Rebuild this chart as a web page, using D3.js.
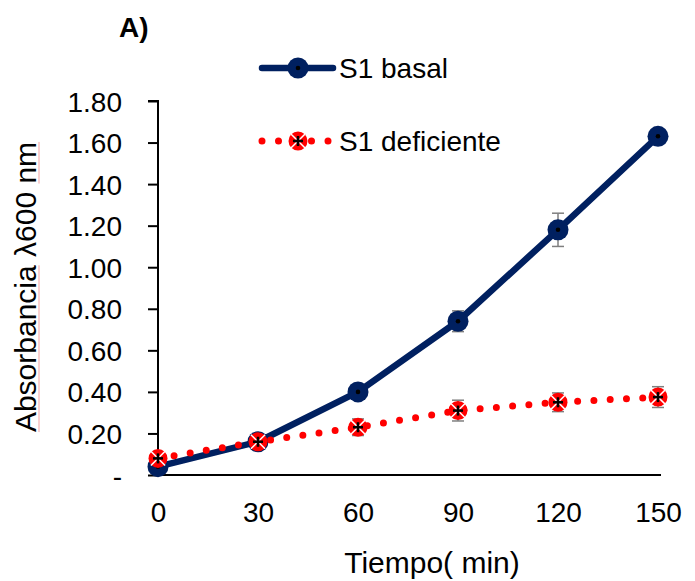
<!DOCTYPE html>
<html>
<head>
<meta charset="utf-8">
<script src="https://cdn.jsdelivr.net/npm/d3@7"></script>
<style>
  body { margin: 0; background: #fff; }
  text { font-family: "Liberation Sans", Arial, sans-serif; fill: #000; }
</style>
</head>
<body>
<div id="viz"></div>
<script>
// time points (min)
const tiempo = [0, 30, 60, 90, 120, 150];
// absorbance series
const basal = [0.04, 0.16, 0.40, 0.74, 1.18, 1.63];
const basalErr = [0.01, 0.02, 0.02, 0.05, 0.08, 0.02];
const deficiente = [0.08, 0.16, 0.23, 0.31, 0.35, 0.375];
const deficienteErr = [0.03, 0.02, 0.04, 0.05, 0.045, 0.05];
const yTicks = [0, 0.2, 0.4, 0.6, 0.8, 1.0, 1.2, 1.4, 1.6, 1.8];
const seriesNames = ['S1 basal', 'S1 deficiente'];

const width = 695, height = 581;
const margins = { top: 101, right: 29, bottom: 106, left: 158 };

const svg = d3.select('#viz').append('svg')
    .attr('width', width)
    .attr('height', height);

const xScale = d3.scaleLinear()
    .domain([0, 150])
    .range([margins.left, width - margins.right - 8]);

const yScale = d3.scaleLinear()
    .domain([0, 1.8])
    .range([height - margins.bottom, margins.top]);

// y axis
const yAxis = d3.axisLeft(yScale)
    .tickValues(yTicks)
    .tickSize(10)
    .tickPadding(26)
    .tickFormat(d => d === 0 ? '-' : d3.format('.2f')(d));

const gy = svg.append('g')
    .attr('transform', `translate(${margins.left},0)`)
    .call(yAxis);
gy.select('.domain').attr('stroke', '#000').attr('stroke-width', 2).attr('d', `M-10,${yScale(1.8)}H0V${yScale(0)}`);
gy.selectAll('.tick line').attr('stroke', '#000').attr('stroke-width', 2);
gy.selectAll('.tick text').style('font-size', '28px').attr('dy', '0.36em');

// x axis
const xAxis = d3.axisBottom(xScale)
    .tickValues(tiempo)
    .tickSize(0)
    .tickPadding(27);

const gx = svg.append('g')
    .attr('transform', `translate(0,${yScale(0)})`)
    .call(xAxis);
gx.select('.domain').attr('stroke', '#000').attr('stroke-width', 2)
    .attr('d', `M${xScale(0)},0H${xScale(150) + 3}`);
gx.selectAll('.tick text').style('font-size', '28px');

// axis titles
svg.append('text')
    .attr('x', 432)
    .attr('y', 573)
    .attr('text-anchor', 'middle')
    .style('font-size', '30px')
    .text('Tiempo( min)');

const yTitle = svg.append('text')
    .attr('transform', 'translate(36,287) rotate(-90)')
    .attr('text-anchor', 'middle')
    .style('font-size', '30px')
    .text('Absorbancia λ600 nm');

// faint spell-check underline under "Absorbancia" and "nm"
const node = yTitle.node();
const total = node.getComputedTextLength();
const absLen = node.getSubStringLength(0, 11);
const nmStart = node.getSubStringLength(0, 17);
const yStart = 287 + total / 2;
const marks = svg.append('g').attr('stroke', '#f3a3a3').attr('stroke-width', 1);
marks.append('line').attr('x1', 39).attr('x2', 39).attr('y1', yStart).attr('y2', yStart - absLen);
marks.append('line').attr('x1', 39).attr('x2', 39).attr('y1', yStart - nmStart).attr('y2', yStart - total);

svg.append('text')
    .attr('x', 119)
    .attr('y', 37)
    .style('font-size', '28px')
    .style('font-weight', 'bold')
    .text('A)');

const line = d3.line()
    .x((d, i) => xScale(tiempo[i]))
    .y(d => yScale(d));

// error bars
function errorBars(values, errs) {
    const g = svg.append('g').attr('stroke', '#7f7f7f').attr('stroke-width', 1.5);
    values.forEach((v, i) => {
        const x = xScale(tiempo[i]);
        const y0 = yScale(v - errs[i]), y1 = yScale(v + errs[i]);
        g.append('line').attr('x1', x).attr('x2', x).attr('y1', y0).attr('y2', y1);
        g.append('line').attr('x1', x - 6).attr('x2', x + 6).attr('y1', y0).attr('y2', y0);
        g.append('line').attr('x1', x - 6).attr('x2', x + 6).attr('y1', y1).attr('y2', y1);
    });
}

errorBars(basal, basalErr);
errorBars(deficiente, deficienteErr);

// basal line
svg.append('path')
    .datum(basal)
    .attr('d', line)
    .attr('fill', 'none')
    .attr('stroke', '#002060')
    .attr('stroke-width', 6.5)
    .attr('stroke-linejoin', 'round');

function basalMarker(g, x, y) {
    g.append('circle').attr('cx', x).attr('cy', y).attr('r', 10.5).attr('fill', '#002060');
    g.append('circle').attr('cx', x).attr('cy', y).attr('r', 2.3).attr('fill', '#000');
}

const gb = svg.append('g');
basal.forEach((v, i) => basalMarker(gb, xScale(tiempo[i]), yScale(v)));

// deficiente dotted line
svg.append('path')
    .datum(deficiente)
    .attr('d', line)
    .attr('fill', 'none')
    .attr('stroke', '#ff0000')
    .attr('stroke-width', 7)
    .attr('stroke-linecap', 'round')
    .attr('stroke-dasharray', '0 16.3');

function defMarker(g, x, y) {
    g.append('circle').attr('cx', x).attr('cy', y).attr('r', 9.5).attr('fill', '#ff0000');
    // white gaps
    [45, 135].forEach(a => {
        const r = a * Math.PI / 180;
        g.append('line')
            .attr('x1', x - 10 * Math.cos(r)).attr('y1', y - 10 * Math.sin(r))
            .attr('x2', x + 10 * Math.cos(r)).attr('y2', y + 10 * Math.sin(r))
            .attr('stroke', '#fff').attr('stroke-width', 1.5);
    });
    g.append('line').attr('x1', x - 5).attr('x2', x + 5).attr('y1', y).attr('y2', y)
        .attr('stroke', '#000').attr('stroke-width', 2.5);
    g.append('line').attr('x1', x).attr('x2', x).attr('y1', y - 5).attr('y2', y + 5)
        .attr('stroke', '#000').attr('stroke-width', 2.5);
}

const gd = svg.append('g');
deficiente.forEach((v, i) => defMarker(gd, xScale(tiempo[i]), yScale(v)));

// legend
const legend = svg.append('g');
legend.append('line')
    .attr('x1', 262).attr('x2', 333).attr('y1', 68).attr('y2', 68)
    .attr('stroke', '#002060').attr('stroke-width', 6.5).attr('stroke-linecap', 'round');
basalMarker(legend, 298, 68);
legend.append('text').attr('x', 339).attr('y', 68).attr('dy', '0.36em')
    .style('font-size', '28px').text(seriesNames[0]);

legend.append('line')
    .attr('x1', 262).attr('x2', 330).attr('y1', 141).attr('y2', 141)
    .attr('stroke', '#ff0000').attr('stroke-width', 7)
    .attr('stroke-linecap', 'round').attr('stroke-dasharray', '0 16.5');
defMarker(legend, 298, 141);
legend.append('text').attr('x', 339).attr('y', 141).attr('dy', '0.36em')
    .style('font-size', '28px').text(seriesNames[1]);
</script>
</body>
</html>
